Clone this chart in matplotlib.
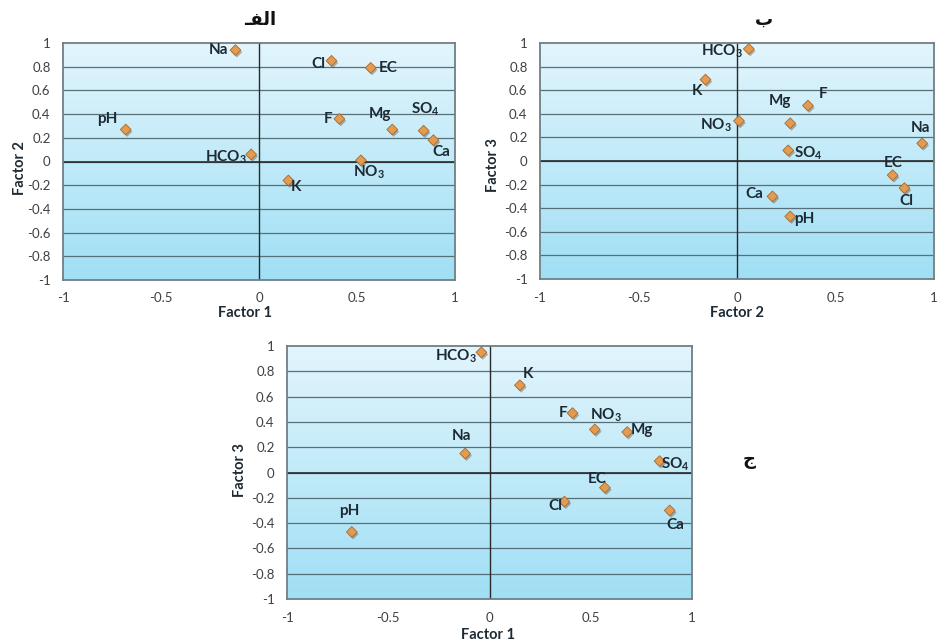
import numpy as np
import matplotlib
matplotlib.use("Agg")
import matplotlib.pyplot as plt
from matplotlib import patheffects as pe
from matplotlib.colors import LinearSegmentedColormap

# factor loadings
variables = ["pH", "EC", "Ca", "Mg", "Na", "K", "HCO3", "Cl", "SO4", "NO3", "F"]
factor1 = [-0.68, 0.57, 0.89, 0.68, -0.12, 0.15, -0.04, 0.37, 0.84, 0.52, 0.41]
factor2 = [0.27, 0.79, 0.18, 0.27, 0.94, -0.16, 0.06, 0.85, 0.26, 0.01, 0.36]
factor3 = [-0.47, -0.12, -0.30, 0.32, 0.15, 0.69, 0.95, -0.23, 0.09, 0.34, 0.47]

ticks_x = [-1, -0.5, 0, 0.5, 1]
ticks_y = [-1, -0.8, -0.6, -0.4, -0.2, 0, 0.2, 0.4, 0.6, 0.8, 1]

display = {"HCO3": "HCO$_3$", "SO4": "SO$_4$", "NO3": "NO$_3$"}

# label offsets (pixels, text centre relative to marker) for each panel
off_a = {"Na": (-17, 0), "Cl": (-13, -3), "EC": (17, 0), "pH": (-18, 11), "F": (-11, 0),
         "Mg": (-12, 16), "SO4": (2, 21), "Ca": (8, -12), "HCO3": (-25, -3),
         "NO3": (8, -12), "K": (8, -7)}
off_b = {"HCO3": (-27, -2), "K": (-9, -11), "NO3": (-23, -4), "Mg": (-10, 22), "F": (15, 12),
         "SO4": (20, -3), "Ca": (-18, 2), "pH": (14, -3), "EC": (1, 12), "Cl": (2, -13),
         "Na": (-2, 15)}
off_c = {"HCO3": (-25, -4), "K": (8, 11), "F": (-9, 0), "NO3": (11, 14), "Mg": (15, 2),
         "Na": (-4, 18), "SO4": (16, -3), "EC": (-8, 9), "Cl": (-9, -4), "Ca": (6, -15),
         "pH": (-2, 21)}

plt.rcParams['font.family'] = ['Lato', 'DejaVu Sans']
plt.rcParams['mathtext.fontset'] = 'custom'
plt.rcParams['mathtext.rm'] = 'Lato:bold'
plt.rcParams['mathtext.default'] = 'rm'

W, H = 938, 644
fig = plt.figure(figsize=(W / 100, H / 100), dpi=100)
fig.patch.set_facecolor('white')

bg = LinearSegmentedColormap.from_list('bg', ['#e2f5fc', '#a0dff5'])


def rect(l, t, r, b):
    return [l / W, 1 - b / H, (r - l) / W, (b - t) / H]


def panel(box, xs, ys, offs):
    ax = fig.add_axes(rect(*box))
    ax.set_xlim(-1, 1)
    ax.set_ylim(-1, 1)
    ax.imshow(np.linspace(0, 1, 256).reshape(-1, 1), cmap=bg, aspect='auto',
              extent=(-1, 1, -1, 1), zorder=0, interpolation='bilinear')
    for y in ticks_y[1:-1]:
        ax.axhline(y, color='#566f78', lw=0.9, zorder=1)
    ax.axhline(0, color='#2a2a2a', lw=1.2, zorder=2)
    ax.axvline(0, color='#2a2a2a', lw=1.0, zorder=2)
    sc = ax.scatter(xs, ys, marker='D', s=30, facecolor='#e39b4f', edgecolor='#a9692d',
                    linewidths=0.6, zorder=4)
    sc.set_path_effects([pe.SimplePatchShadow(offset=(1, -1.5), alpha=0.35), pe.Normal()])
    for name, x, y in zip(variables, xs, ys):
        dx, dy = offs[name]
        ax.annotate(display.get(name, name), (x, y), xytext=(dx, dy),
                    textcoords='offset pixels', ha='center', va='center',
                    fontsize=11, fontweight='bold', color='#1e2a33', zorder=5)
    ax.set_xticks(ticks_x)
    ax.set_xticklabels(['-1', '-0.5', '0', '0.5', '1'])
    ax.set_yticks(ticks_y)
    ax.set_yticklabels(['-1', '-0.8', '-0.6', '-0.4', '-0.2', '0', '0.2', '0.4', '0.6', '0.8', '1'])
    ax.tick_params(length=0, pad=9, labelsize=9.5, labelcolor='#404040')
    for s in ax.spines.values():
        s.set_color('#6f7f85')
        s.set_linewidth(1.3)
    return ax


panel((63, 43, 455, 280), factor1, factor2, off_a)
panel((540, 43, 934, 279), factor2, factor3, off_b)
panel((287, 346, 692, 599), factor1, factor3, off_c)


def ftext(x, y, s, **kw):
    fig.text(x / W, 1 - y / H, s, ha='center', va='center', **kw)


lab = dict(fontsize=10.5, fontweight='bold', color='#1e2a33')
ftext(245, 313, 'Factor 1', **lab)
ftext(737, 313, 'Factor 2', **lab)
ftext(488, 635, 'Factor 1', **lab)
ftext(20, 168, 'Factor 2', rotation=90, **lab)
ftext(493, 165, 'Factor 3', rotation=90, **lab)
ftext(240, 470, 'Factor 3', rotation=90, **lab)

# panel letters (visual order, Arabic presentation forms)
arab = dict(fontsize=13, fontweight='bold', color='#111111', family='DejaVu Sans')
ftext(260, 20, '\u0640\uFED4\uFEDF\uFE8D', **arab)
ftext(764, 20, '\uFE8F', **arab)
ftext(749, 460, '\uFE9D', **arab)

fig.savefig('out.png', dpi=100)
